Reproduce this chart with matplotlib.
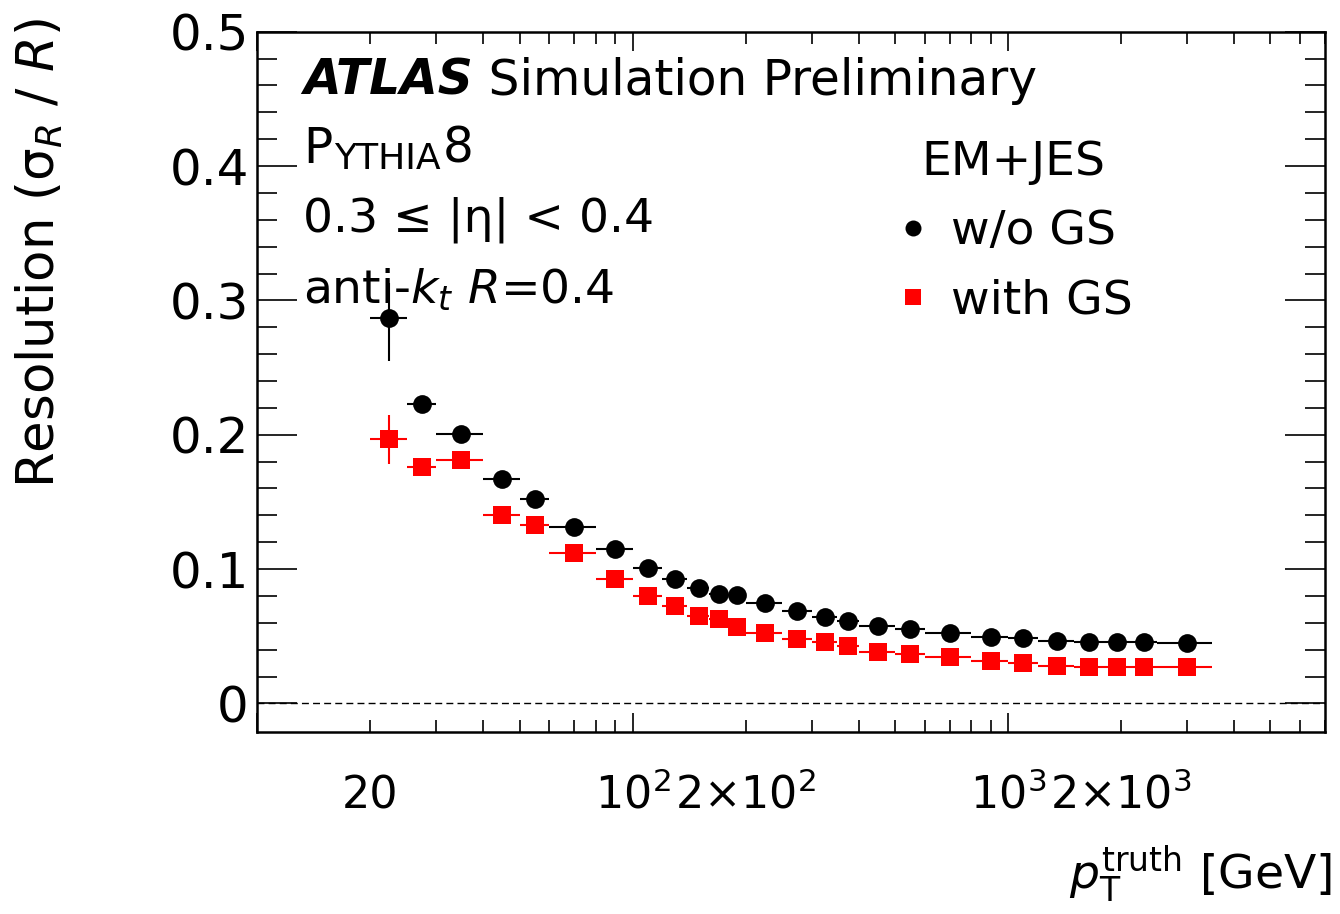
import matplotlib
matplotlib.use("Agg")
import matplotlib.pyplot as plt
from matplotlib.lines import Line2D
from matplotlib.ticker import FixedLocator, FuncFormatter
import numpy as np

plt.rcParams["font.family"] = "DejaVu Sans"
plt.rcParams["mathtext.fontset"] = "dejavusans"

# pT truth bins [GeV]
bin_edges = [20, 25, 30, 40, 50, 60, 80, 100, 120, 140, 160, 180, 200, 250, 300,
             350, 400, 500, 600, 800, 1000, 1200, 1500, 1800, 2100, 2500, 3500]

# EM+JES without global sequential calibration
res_no_gs = [0.2867, 0.2226, 0.2005, 0.1670, 0.1519, 0.1315, 0.1148, 0.1008, 0.0926,
             0.0856, 0.0814, 0.0806, 0.0749, 0.0690, 0.0645, 0.0611, 0.0576, 0.0551,
             0.0526, 0.0491, 0.0484, 0.0466, 0.0454, 0.0454, 0.0459, 0.0447]
err_no_gs_lo = [0.032, 0.004, 0.003, 0.002, 0.002, 0.002, 0.002, 0.001, 0.001, 0.001,
                0.001, 0.001, 0.001, 0.001, 0.001, 0.001, 0.001, 0.001, 0.001, 0.001,
                0.001, 0.001, 0.001, 0.001, 0.001, 0.001]
err_no_gs_hi = [0.026, 0.004, 0.003, 0.002, 0.002, 0.002, 0.002, 0.001, 0.001, 0.001,
                0.001, 0.001, 0.001, 0.001, 0.001, 0.001, 0.001, 0.001, 0.001, 0.001,
                0.001, 0.001, 0.001, 0.001, 0.001, 0.001]

# EM+JES with global sequential calibration
res_gs = [0.1966, 0.1762, 0.1812, 0.1402, 0.1325, 0.1117, 0.0930, 0.0799, 0.0725,
          0.0650, 0.0625, 0.0570, 0.0526, 0.0481, 0.0456, 0.0427, 0.0383, 0.0367,
          0.0347, 0.0315, 0.0298, 0.0280, 0.0268, 0.0273, 0.0273, 0.0268]
err_gs = [0.018, 0.004, 0.003, 0.002, 0.002, 0.002, 0.002, 0.001, 0.001, 0.001,
          0.001, 0.001, 0.001, 0.001, 0.001, 0.001, 0.001, 0.001, 0.001, 0.001,
          0.001, 0.001, 0.001, 0.001, 0.001, 0.001]

major_xticks = [10, 100, 1000]
minor_xticks = [20, 30, 40, 50, 60, 70, 80, 90,
                200, 300, 400, 500, 600, 700, 800, 900,
                2000, 3000, 4000, 5000, 6000, 7000]
xtick_labels = {100: r"$10^{2}$", 1000: r"$10^{3}$",
                20: "20", 200: r"$2{\times}10^{2}$", 2000: r"$2{\times}10^{3}$"}

edges = np.array(bin_edges, dtype=float)
lo, hi = edges[:-1], edges[1:]
pt = 0.5 * (lo + hi)
xerr = [pt - lo, hi - pt]

fig = plt.figure(figsize=(13.4, 9.14), dpi=100)
ax = fig.add_axes([0.1920, 0.1995, 0.7968, 0.7658])

ax.axhline(0, ls=(0, (5, 3)), lw=1.0, color="black", zorder=1)

ax.errorbar(pt, res_no_gs, xerr=xerr, yerr=[err_no_gs_lo, err_no_gs_hi], fmt="o",
            color="black", ms=13.5, mew=0, elinewidth=1.5, capsize=0, zorder=3)
ax.errorbar(pt, res_gs, xerr=xerr, yerr=err_gs, fmt="s", color="red", ecolor="red",
            ms=13.5, mew=0, elinewidth=1.5, capsize=0, zorder=4)

ax.set_xscale("log")
ax.set_xlim(10, 7000)
ax.set_ylim(-0.021, 0.5)

ax.xaxis.set_major_locator(FixedLocator(major_xticks))
ax.xaxis.set_minor_locator(FixedLocator(minor_xticks))
fmt = FuncFormatter(lambda v, p: xtick_labels.get(int(round(v)), ""))
ax.xaxis.set_major_formatter(fmt)
ax.xaxis.set_minor_formatter(fmt)
ax.set_yticks([0, 0.1, 0.2, 0.3, 0.4, 0.5])
ax.set_yticklabels(["0", "0.1", "0.2", "0.3", "0.4", "0.5"])
ax.set_yticks(np.arange(0, 0.5, 0.02), minor=True)

ax.tick_params(which="both", direction="in", top=True, right=True, width=1.2)
ax.tick_params(axis="y", which="both", labelsize=36)
ax.tick_params(axis="x", which="both", labelsize=32)
ax.tick_params(axis="x", which="major", length=13.7, pad=55)
ax.tick_params(axis="x", which="minor", length=8.6, pad=55)
ax.tick_params(axis="y", which="major", length=29, pad=6)
ax.tick_params(axis="y", which="minor", length=14.5)
for lab in ax.get_xticklabels(which="both"):
    lab.set_verticalalignment("baseline")
for s in ax.spines.values():
    s.set_linewidth(1.8)

# axis titles
fig.text(40 / 1340, 1 - 18 / 914, "Resolution (σ$_{R}$ / $R$)", rotation=90,
         ha="center", va="top", fontsize=37)
fig.text(1332 / 1340, 1 - 889 / 914, r"$p_{\mathrm{T}}^{\mathrm{truth}}$ [GeV]",
         ha="right", va="baseline", fontsize=34)

# ATLAS label block
fs = 35
t_atlas = ax.text(0.0428, 0.9097, "ATLAS", fontsize=fs, fontweight="bold",
                  fontstyle="italic", transform=ax.transAxes, va="baseline")
ax.annotate(" Simulation Preliminary", xy=(1, 0), xycoords=t_atlas, va="bottom",
            fontsize=fs)
t_p = ax.text(0.0428, 0.8125, "P", fontsize=fs, transform=ax.transAxes, va="baseline")
t_y = ax.annotate("YTHIA", xy=(1, 0), xycoords=t_p, va="bottom", fontsize=26,
                  xytext=(1.5, -2.1), textcoords="offset points")
ax.annotate("8", xy=(1, 0), xycoords=t_y, va="bottom", fontsize=fs,
            xytext=(1.5, 2.1), textcoords="offset points")
ax.text(0.0428, 0.714, "0.3 ≤ |η| < 0.4", fontsize=34, transform=ax.transAxes,
        va="baseline")
ax.text(0.0428, 0.612, r"anti-$k_{t}$ $R$=0.4", fontsize=34, transform=ax.transAxes,
        va="baseline")

handles = [Line2D([], [], ls="none", marker="o", color="black", ms=11.5, mew=0),
           Line2D([], [], ls="none", marker="s", color="red", ms=11.5, mew=0)]
ax.legend(handles, ["w/o GS", "with GS"], title="EM+JES", loc="upper left",
          bbox_to_anchor=(0.5963, 0.846), frameon=False, fontsize=34, title_fontsize=34,
          handlelength=0.8, handletextpad=0.4, labelspacing=0.52, borderpad=0,
          borderaxespad=0)

fig.savefig("out.png", dpi=100)
